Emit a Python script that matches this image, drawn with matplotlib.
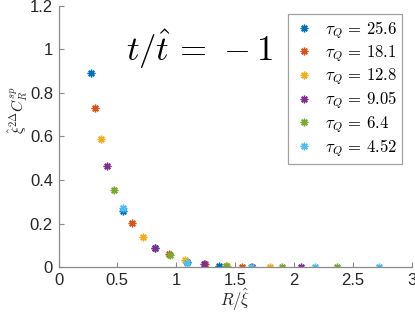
import matplotlib
matplotlib.use("Agg")
import matplotlib.pyplot as plt

plt.rcParams['mathtext.fontset'] = 'cm'
plt.rcParams['font.family'] = ['Liberation Sans', 'DejaVu Sans']

tau_labels = ["25.6", "18.1", "12.8", "9.05", "6.4", "4.52"]
colors = ["#0072BD", "#D95319", "#EDB120", "#7E2F8E", "#77AC30", "#4DBEEE"]

x_blue = [0.272, 0.544, 0.816, 1.088, 1.36]
y_blue = [0.89, 0.258, 0.087, 0.025, 0.007]
x_orange = [0.312, 0.624, 0.936, 1.248, 1.56]
y_orange = [0.732, 0.202, 0.060, 0.014, 0.003]
x_yellow = [0.359, 0.718, 1.077, 1.436, 1.795]
y_yellow = [0.587, 0.139, 0.034, 0.005, 0.001]
x_purple = [0.412, 0.824, 1.236, 1.648, 2.06]
y_purple = [0.465, 0.087, 0.016, 0.002, 0.0]
x_green = [0.474, 0.948, 1.422, 1.896, 2.37]
y_green = [0.355, 0.057, 0.005, 0.0, 0.0]
x_cyan = [0.544, 1.088, 1.632, 2.176, 2.72]
y_cyan = [0.271, 0.022, 0.001, 0.0, 0.0]

xs = [x_blue, x_orange, x_yellow, x_purple, x_green, x_cyan]
ys = [y_blue, y_orange, y_yellow, y_purple, y_green, y_cyan]

xticks = [0, 0.5, 1, 1.5, 2, 2.5, 3]
xticklabels = ["0", "0.5", "1", "1.5", "2", "2.5", "3"]
yticks = [0, 0.2, 0.4, 0.6, 0.8, 1.0, 1.2]
yticklabels = ["0", "0.2", "0.4", "0.6", "0.8", "1", "1.2"]

fig = plt.figure(figsize=(4.15, 3.2), dpi=100)
ax = fig.add_axes([58.5/415, 1-267.3/320, 353/415, 261.8/320])

for x, y, c, lab in zip(xs, ys, colors, tau_labels):
    ax.plot(x, y, linestyle='none', marker=(8, 2, 0), markersize=5.5,
            markeredgewidth=1.0, color=c, label=r'$\tau_Q \,=\, %s$' % lab)

ax.set_xlim(0, 3)
ax.set_ylim(0, 1.2)
ax.set_xticks(xticks)
ax.set_xticklabels(xticklabels)
ax.set_yticks(yticks)
ax.set_yticklabels(yticklabels)

axcol = '#8a8a8a'
for s in ['top', 'right']:
    ax.spines[s].set_visible(False)
for s in ['left', 'bottom']:
    ax.spines[s].set_color(axcol)
    ax.spines[s].set_linewidth(0.9)
ax.tick_params(direction='in', length=3.5, width=0.8, color=axcol,
               labelsize=12, labelcolor='#262626', pad=4)

ax.text(0.575, 1.0, r'$t/\hat{t} \,=\, -1$', fontsize=25, color='black',
        ha='left', va='center')

fig.text(18/415, 1-110/320, r'$\hat{\xi}^{2\Delta}C_R^{sp}$', rotation=90,
         fontsize=11, color='#262626', ha='center', va='center')
fig.text(235/415, 1-300/320, r'$R/\hat{\xi}$', fontsize=12, color='#262626',
         ha='center', va='center')

leg = ax.legend(loc='upper right', bbox_to_anchor=(402/415, 1-14/320),
                bbox_transform=fig.transFigure, fontsize=12, frameon=True,
                fancybox=False, edgecolor='#8a8a8a', handlelength=1.3,
                handletextpad=0.6, labelspacing=0.15, borderpad=0.3,
                borderaxespad=0)
leg.get_frame().set_linewidth(0.9)

fig.savefig('out.png', dpi=100)
